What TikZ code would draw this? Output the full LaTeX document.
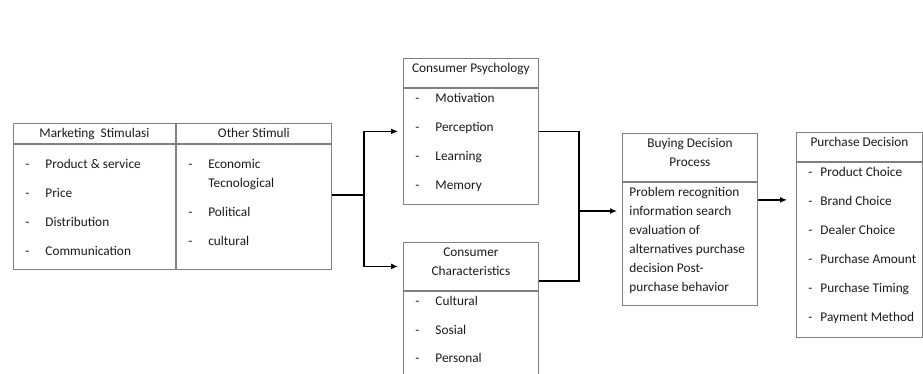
\documentclass[tikz,border=0pt]{standalone}
\usepackage{fontspec}
\setmainfont{Carlito}
\usetikzlibrary{positioning,arrows.meta,calc}

\definecolor{boxline}{HTML}{808080}
\definecolor{inktext}{HTML}{1A1A1A}

% box part: width, height, text set from the top
\newcommand{\cell}[4][14.5pt]{\parbox[c][#3][t]{#2}{\rule{0pt}{#1}#4}}
\newcommand{\itm}[1]{\hspace*{12pt}\makebox[20pt][l]{-}#1}
\newcommand{\itmb}[1]{\hspace*{12pt}\makebox[12pt][l]{-}#1}

\begin{document}
\begin{tikzpicture}[x=1pt, y=-1pt, >={Latex[length=7pt,width=6pt]},
    part/.style={draw=boxline, line width=0.9pt, inner sep=0pt, anchor=north west, text=inktext},
    link/.style={line width=1.3pt, black},
    font=\fontsize{13.3}{19}\selectfont]
  \useasboundingbox (0,0) rectangle (923,374);

  % stimuli
  \node[part] (mshead) at (13,123) {\cell{162pt}{20pt}{\centering Marketing\ \ Stimulasi}};
  \node[part, right=0pt of mshead] (oshead) {\cell{155pt}{20pt}{\centering Other Stimuli}};
  \node[part, below=0pt of mshead] (msbody) {\cell[24.5pt]{162pt}{125pt}{%
    \itm{Product \& service}\\[10pt]\itm{Price}\\[10pt]\itm{Distribution}\\[10pt]\itm{Communication}}};
  \node[part, below=0pt of oshead] (osbody) {\cell[24.5pt]{155pt}{125pt}{%
    \itm{Economic}\\\hspace*{32pt}Tecnological\\[10pt]\itm{Political}\\[10pt]\itm{cultural}}};

  % consumer psychology
  \node[part] (cphead) at (403,58) {\cell{135pt}{29pt}{\centering Consumer Psychology}};
  \node[part, below=0pt of cphead] (cpbody) {\cell{135pt}{116pt}{%
    \itm{Motivation}\\[10pt]\itm{Perception}\\[10pt]\itm{Learning}\\[10pt]\itm{Memory}}};

  % consumer characteristics
  \node[part] (cchead) at (403,242) {\cell{135pt}{48pt}{\centering Consumer\\Characteristics}};
  \node[part, below=0pt of cchead] (ccbody) {\cell{135pt}{110pt}{%
    \itm{Cultural}\\[9.5pt]\itm{Sosial}\\[9.5pt]\itm{Personal}}};

  % buying decision process
  \node[part] (bdhead) at (622,133) {\cell{135pt}{48pt}{\centering Buying Decision\\Process}};
  \node[part, below=0pt of bdhead] (bdbody) {\cell{135pt}{123pt}{\leftskip=7pt
    Problem recognition\\information search\\evaluation of\\alternatives purchase\\decision Post-\\purchase behavior}};

  % purchase decision
  \node[part] (pdhead) at (796,132) {\cell{126pt}{29pt}{\centering Purchase Decision}};
  \node[part, below=0pt of pdhead] (pdbody) {\cell{126pt}{175pt}{%
    \itmb{Product Choice}\\[10pt]\itmb{Brand Choice}\\[10pt]\itmb{Dealer Choice}\\[10pt]%
    \itmb{Purchase Amount}\\[10pt]\itmb{Purchase Timing}\\[10pt]\itmb{Payment Method}}};

  % connectors
  \coordinate (split) at (364,195);
  \coordinate (join) at (579,211);
  \draw[link] (osbody.east |- split) -- (split);
  \draw[link, ->, shorten >=5pt] (split) |- ($(cphead.north west)!0.5!(cpbody.south west)$);
  \draw[link, ->, shorten >=5pt] (split) |- (cchead.west);
  \draw[link] ($(cphead.north east)!0.5!(cpbody.south east)$) -| (join);
  \draw[link] ([yshift=10pt]cchead.south east) -| (join);
  \draw[link, ->, shorten >=5pt] (join) -- (join -| bdbody.west);
  \draw[link, ->, shorten >=9pt] ([yshift=-18pt]bdbody.north east) -- ([yshift=-18pt]bdbody.north east -| pdbody.west);
\end{tikzpicture}
\end{document}
